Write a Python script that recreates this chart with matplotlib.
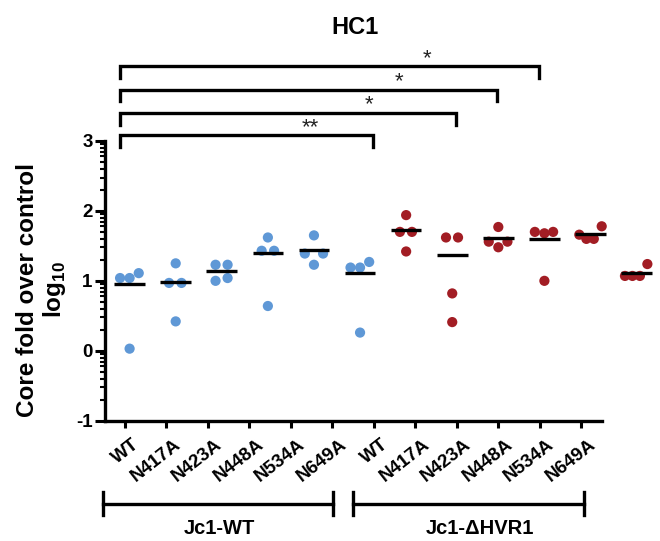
import numpy as np
import matplotlib
matplotlib.use("Agg")
import matplotlib.pyplot as plt
import matplotlib.transforms as mtrans
from matplotlib.ticker import FixedLocator

plt.rcParams.update({
    "font.family": ["Liberation Sans", "DejaVu Sans"],
    "font.weight": "bold",
    "mathtext.fontset": "custom",
    "mathtext.rm": "Liberation Sans:bold",
    "mathtext.bf": "Liberation Sans:bold",
})

# mutants, repeated for each virus background
mutants = ["WT", "N417A", "N423A", "N448A", "N534A", "N649A"]
groups = ["Jc1-WT", "Jc1-\u0394HVR1"]

# log10 core fold over control, four replicates per mutant
jc1_wt = [
    [1.04, 1.04, 1.11, 0.03],
    [1.25, 0.97, 0.97, 0.42],
    [1.23, 1.23, 1.00, 1.04],
    [1.62, 1.43, 1.43, 0.64],
    [1.65, 1.39, 1.39, 1.23],
    [1.19, 1.19, 1.27, 0.26],
]
jc1_dhvr1 = [
    [1.94, 1.70, 1.70, 1.42],
    [1.62, 1.62, 0.82, 0.41],
    [1.77, 1.56, 1.56, 1.48],
    [1.70, 1.68, 1.70, 1.00],
    [1.66, 1.60, 1.60, 1.78],
    [1.07, 1.07, 1.07, 1.24],
]

# comparisons against Jc1-WT / WT (index 0): target index and label
comp_targets = [6, 8, 9, 10]
comp_labels = ["**", "*", "*", "*"]

# horizontal scatter of replicates within a column (tick units)
jitter = [
    [-0.23, 0.0, 0.22, 0.0],
    [0.0, -0.16, 0.14, 0.0],
    [-0.15, 0.14, -0.15, 0.14],
    [0.0, -0.15, 0.15, 0.0],
    [0.0, -0.22, 0.22, 0.0],
    [-0.23, 0.0, 0.22, 0.0],
    [0.0, -0.15, 0.14, 0.0],
    [-0.15, 0.14, 0.0, 0.0],
    [0.0, -0.23, 0.22, 0.0],
    [-0.23, 0.0, 0.21, 0.0],
    [-0.27, -0.10, 0.08, 0.27],
    [-0.28, -0.10, 0.08, 0.26],
]

BLUE = "#5F98D6"
RED = "#A21D24"

values = jc1_wt + jc1_dhvr1
colors = [BLUE] * len(jc1_wt) + [RED] * len(jc1_dhvr1)
labels = mutants + mutants
ticks = np.arange(len(labels))
# data columns sit on a slightly wider grid than the axis ticks
centers = 0.113 + 1.111 * ticks

fig = plt.figure(figsize=(6.6, 5.41), dpi=100)
ax = fig.add_axes([0.1591, 0.2224, 0.7530, 0.5170])

for i, vals in enumerate(values):
    xs = centers[i] + np.array(jitter[i])
    ax.scatter(xs, vals, s=54, color=colors[i], edgecolors="none",
               zorder=3, clip_on=False)
    # mean of the fold change, shown on the log scale
    m = np.log10(np.mean(10 ** np.array(vals)))
    ax.plot([centers[i] - 0.37, centers[i] + 0.37], [m, m], color="black",
            lw=2.4, solid_capstyle="butt", zorder=4, clip_on=False)

ax.set_xlim(-0.48, 11.5)
ax.set_ylim(-1, 3)
ax.set_xticks(ticks)
ax.set_xticklabels(labels, rotation=38, ha="right", rotation_mode="anchor",
                   fontsize=13.5, fontweight="bold")
ax.set_yticks([-1, 0, 1, 2, 3])
ax.set_yticklabels(["-1", "0", "1", "2", "3"], fontsize=13.5, fontweight="bold")
minor = [n + np.log10(k) for n in range(-1, 3) for k in range(2, 10)]
ax.yaxis.set_minor_locator(FixedLocator(minor))
ax.tick_params(axis="y", which="major", length=7, width=2.2, pad=2)
ax.tick_params(axis="y", which="minor", length=3.5, width=1.5)
ax.tick_params(axis="x", which="major", length=5, width=2.2, pad=6)

shift = mtrans.ScaledTranslation(7 / 100, 0, fig.dpi_scale_trans)
for lab in ax.get_xticklabels():
    lab.set_transform(lab.get_transform() + shift)

for side in ["top", "right"]:
    ax.spines[side].set_visible(False)
for side in ["left", "bottom"]:
    ax.spines[side].set_linewidth(2.4)

ax.set_ylabel("Core fold over control\nlog$_{\\mathbf{10}}$", fontsize=17.5,
              fontweight="bold", linespacing=1.1)
ax.yaxis.set_label_coords(-0.074, 0.467)

# significance brackets above the plot
bar_y = [3.088, 3.399, 3.732, 4.066]
star_xy = [(4.46, 3.11), (5.89, 3.44), (6.61, 3.77), (7.29, 4.10)]
for tgt, lab, yb, (sx, sy) in zip(comp_targets, comp_labels, bar_y, star_xy):
    ax.plot([-0.12, -0.12, tgt - 0.03, tgt - 0.03],
            [yb - 0.167, yb, yb, yb - 0.167], color="black", lw=2.4,
            solid_joinstyle="miter", clip_on=False)
    ax.text(sx, sy, lab, ha="center", va="baseline", fontsize=16,
            fontweight="normal", color="#222222")

# virus background brackets below the labels
group_spans = [(-0.537, 5.02), (5.50, 11.06)]
group_label_x = [2.29, 8.55]
for (x0, x1), name, lx in zip(group_spans, groups, group_label_x):
    ax.plot([x0, x1], [-2.185, -2.185], color="black", lw=2.4, clip_on=False)
    for xe in (x0, x1):
        ax.plot([xe, xe], [-2.02, -2.35], color="black", lw=2.4, clip_on=False)
    ax.text(lx, -2.54, name, ha="center", va="center", fontsize=14.5,
            fontweight="bold")

fig.text(0.538, 0.950, "HC1", ha="center", va="center", fontsize=17,
         fontweight="bold")

fig.savefig("out.png", dpi=100)
